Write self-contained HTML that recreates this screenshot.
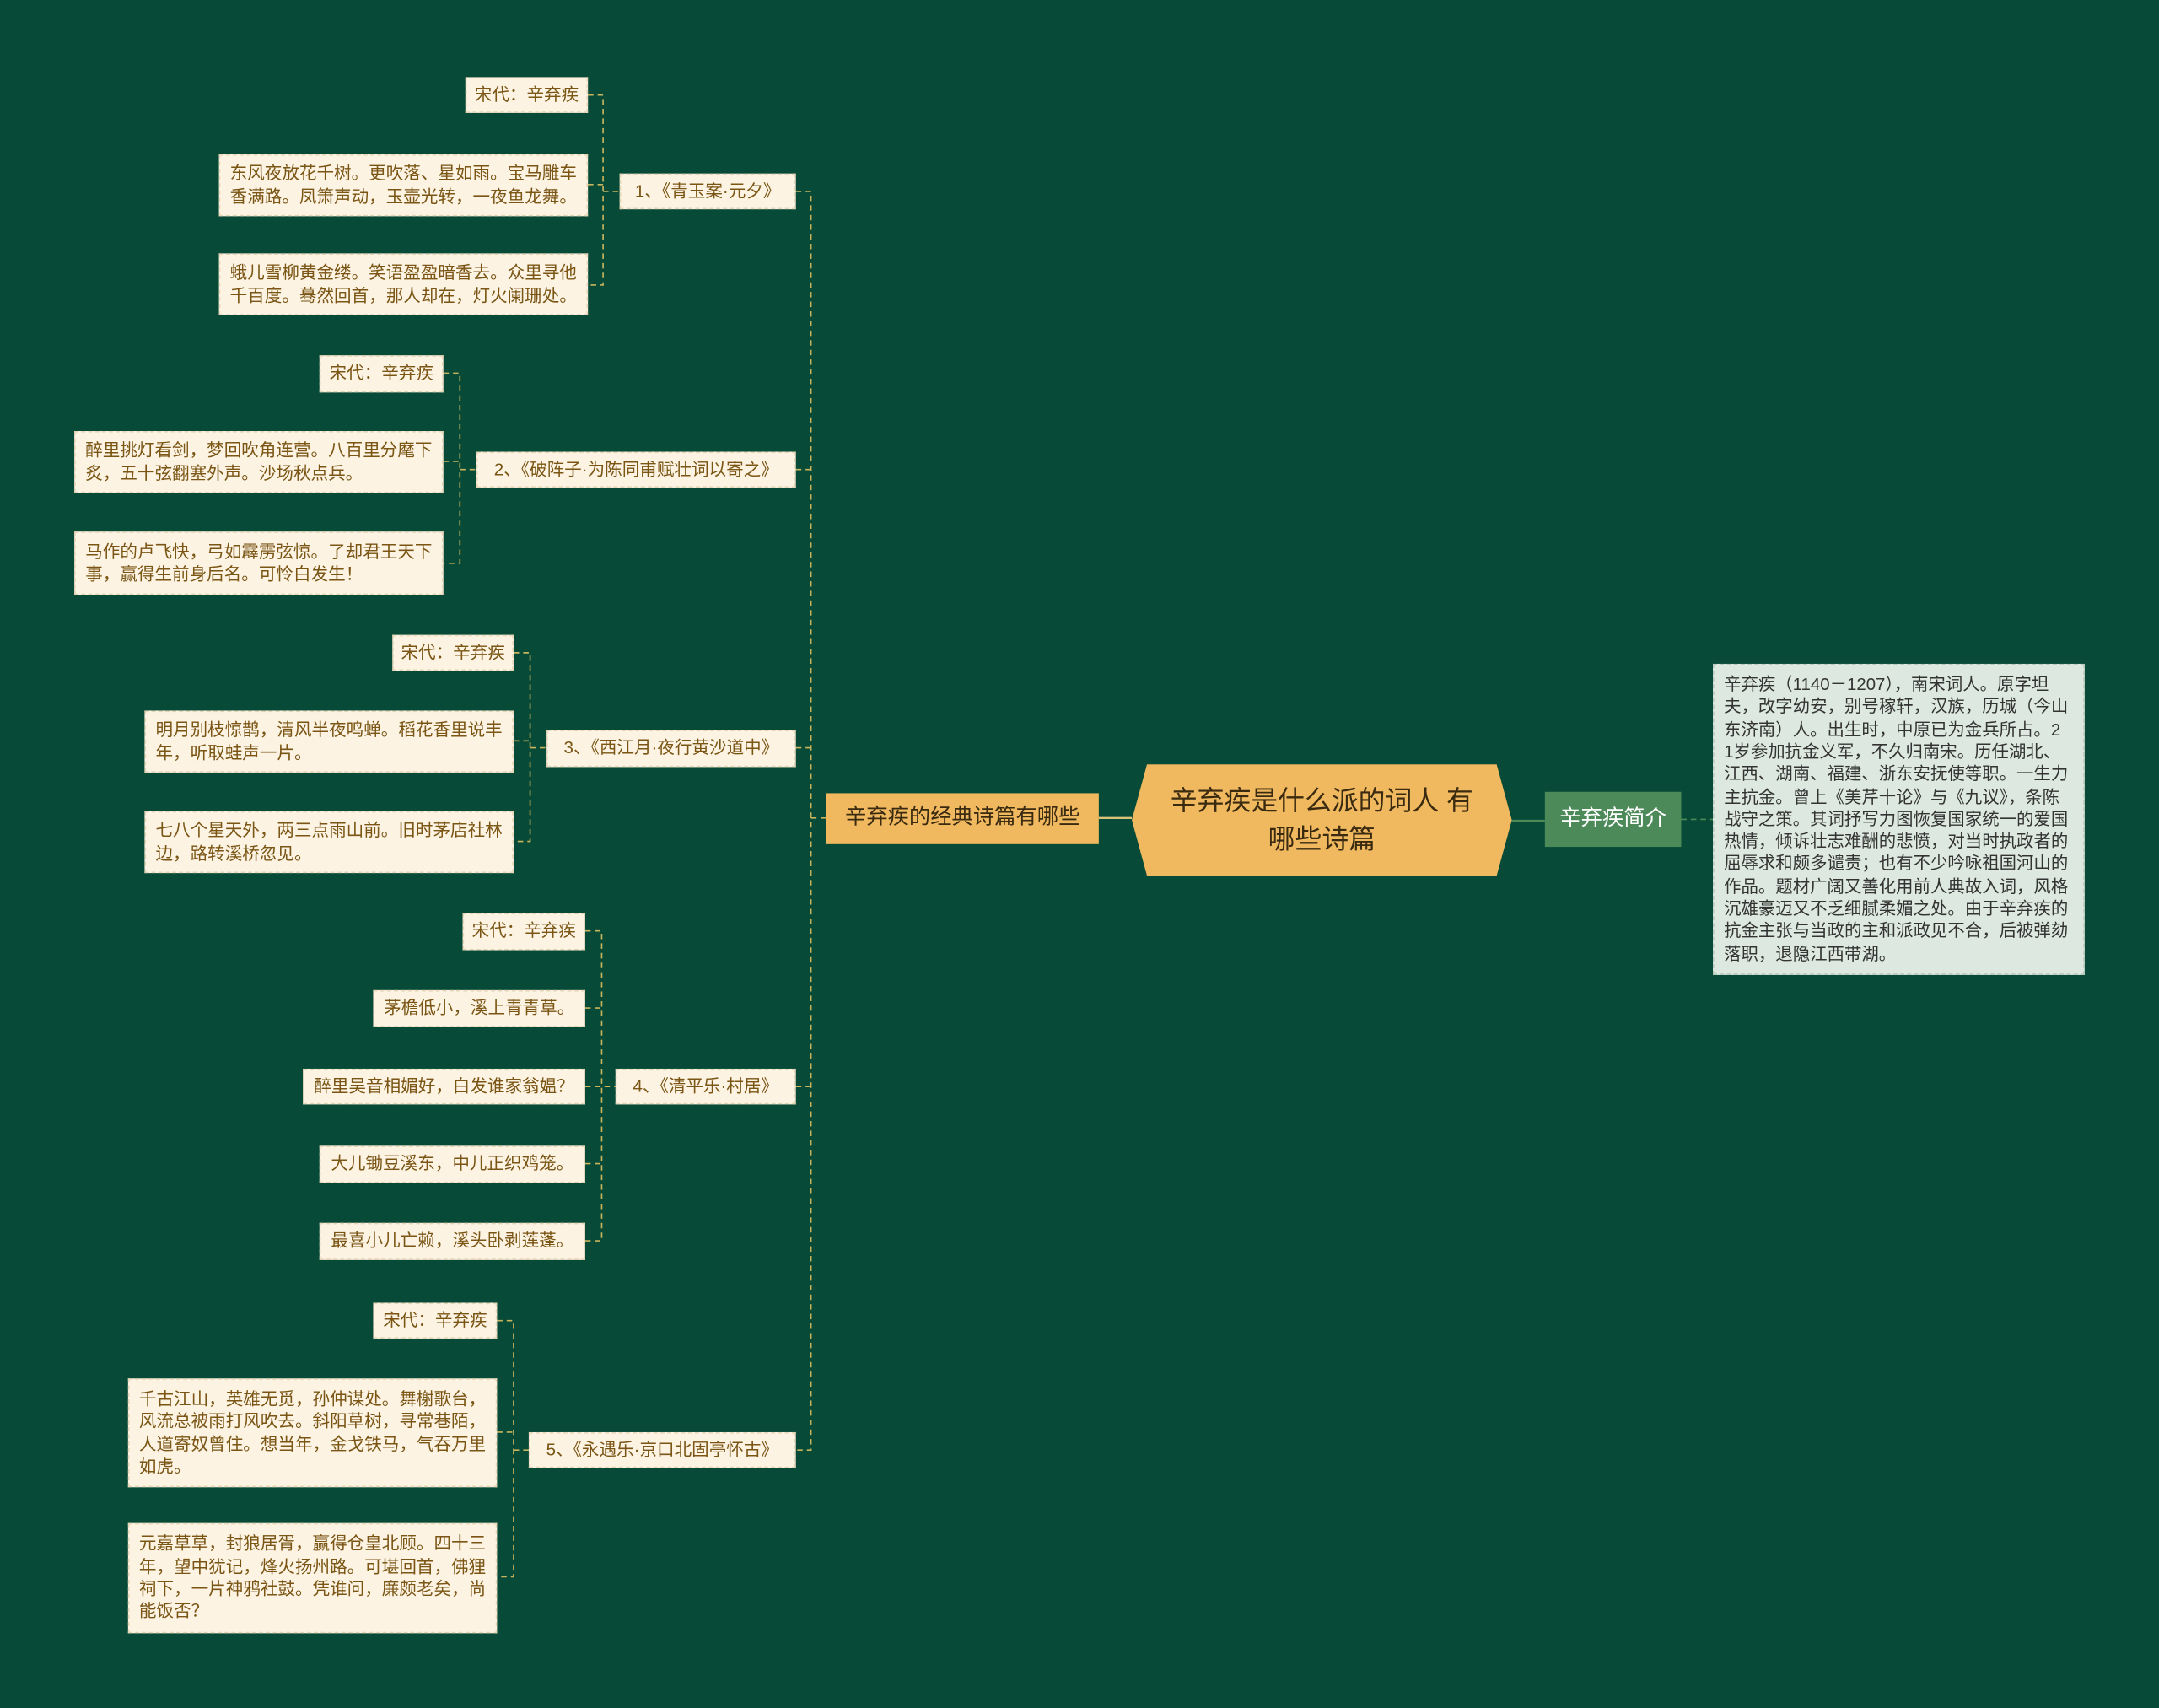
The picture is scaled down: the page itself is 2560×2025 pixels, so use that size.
<!DOCTYPE html>
<html><head><meta charset="utf-8"><style>
html,body{margin:0;padding:0;background:#074a37;width:2560px;height:2025px;overflow:hidden}
#s{position:absolute;left:0;top:0;width:1568px;height:1240px;transform:scale(1.632653);transform-origin:0 0;font-family:"Liberation Sans","Noto Sans CJK SC",sans-serif}
.n{position:absolute;box-sizing:border-box;background:#fcf3e3;color:#7a5514;font-size:12.6px;line-height:16.3px;padding:0 7px;border:1px dashed #e6d6b8;display:flex;align-items:center;white-space:nowrap}
.b{justify-content:center}
svg{position:absolute;left:0;top:0}
</style></head><body><div id="s">
<svg width="1568" height="1240" fill="none" stroke="#c9b45e" stroke-width="1" stroke-dasharray="4,3">
<path d="M578 139H589V1053H578M589 341H578M589 543H578M589 789H578M589 594H600"/>
<path d="M798 594H822" stroke-dasharray="none" stroke="#d8c27a" stroke-width="1.5"/>
<path d="M1098 596H1122" stroke="#4d8a59" stroke-dasharray="none" stroke-width="1.5"/>
<path d="M1221 595H1244" stroke="#4d8a59"/>
<path d="M427 69H438V207H427M427 134H438M438 139H450"/>
<path d="M322 271H334V409H322M322 335H334M334 341H346"/>
<path d="M373 474H385V611H373M373 538H385M385 543H397"/>
<path d="M425 676H437V901H425M425 732H437M425 789H447M425 845H437"/>
<path d="M361 959H373V1145H361M361 1040H373M373 1053H384"/>
</svg>
<div style="position:absolute;left:822px;top:555px;width:276px;height:81px;background:#f0b95f;clip-path:polygon(4% 0,96% 0,100% 50%,96% 100%,4% 100%,0 50%);display:flex;align-items:center;justify-content:center;text-align:center;color:#3a2a10;font-size:19.5px;line-height:28px">辛弃疾是什么派的词人 有<br>哪些诗篇</div>
<div class="n b" style="left:600px;top:576px;width:198px;height:37px;background:#f0b95f;color:#3a2a10;font-size:15.5px;border:none">辛弃疾的经典诗篇有哪些</div>
<div class="n b" style="left:1122px;top:575px;width:99px;height:40px;background:#4d8a59;color:#fff;font-size:15.5px;border:none">辛弃疾简介</div>
<div class="n" style="left:1244px;top:482px;width:270px;height:226px;background:#dde9e0;color:#333;font-size:12.5px;line-height:16.3px;border-color:#b7cbbd;padding:0 6px 0 7px">辛弃疾（1140－1207），南宋词人。原字坦<br>夫，改字幼安，别号稼轩，汉族，历城（今山<br>东济南）人。出生时，中原已为金兵所占。2<br>1岁参加抗金义军，不久归南宋。历任湖北、<br>江西、湖南、福建、浙东安抚使等职。一生力<br>主抗金。曾上《美芹十论》与《九议》，条陈<br>战守之策。其词抒写力图恢复国家统一的爱国<br>热情，倾诉壮志难酬的悲愤，对当时执政者的<br>屈辱求和颇多谴责；也有不少吟咏祖国河山的<br>作品。题材广阔又善化用前人典故入词，风格<br>沉雄豪迈又不乏细腻柔媚之处。由于辛弃疾的<br>抗金主张与当政的主和派政见不合，后被弹劾<br>落职，退隐江西带湖。</div>

<div class="n b" style="left:450px;top:126px;width:128px;height:26px">1、《青玉案·元夕》</div>
<div class="n b" style="left:346px;top:328px;width:232px;height:26px">2、《破阵子·为陈同甫赋壮词以寄之》</div>
<div class="n b" style="left:397px;top:530px;width:181px;height:27px">3、《西江月·夜行黄沙道中》</div>
<div class="n b" style="left:447px;top:776px;width:131px;height:26px">4、《清平乐·村居》</div>
<div class="n b" style="left:384px;top:1040px;width:194px;height:26px">5、《永遇乐·京口北固亭怀古》</div>

<div class="n b" style="left:338px;top:56px;width:89px;height:26px">宋代：辛弃疾</div>
<div class="n" style="left:159px;top:112px;width:268px;height:45px">东风夜放花千树。更吹落、星如雨。宝马雕车<br>香满路。凤箫声动，玉壶光转，一夜鱼龙舞。</div>
<div class="n" style="left:159px;top:184px;width:268px;height:45px">蛾儿雪柳黄金缕。笑语盈盈暗香去。众里寻他<br>千百度。蓦然回首，那人却在，灯火阑珊处。</div>

<div class="n b" style="left:232px;top:258px;width:90px;height:27px">宋代：辛弃疾</div>
<div class="n" style="left:54px;top:313px;width:268px;height:45px">醉里挑灯看剑，梦回吹角连营。八百里分麾下<br>炙，五十弦翻塞外声。沙场秋点兵。</div>
<div class="n" style="left:54px;top:386px;width:268px;height:46px">马作的卢飞快，弓如霹雳弦惊。了却君王天下<br>事，赢得生前身后名。可怜白发生！</div>

<div class="n b" style="left:285px;top:461px;width:88px;height:26px">宋代：辛弃疾</div>
<div class="n" style="left:105px;top:516px;width:268px;height:45px">明月别枝惊鹊，清风半夜鸣蝉。稻花香里说丰<br>年，听取蛙声一片。</div>
<div class="n" style="left:105px;top:589px;width:268px;height:45px">七八个星天外，两三点雨山前。旧时茅店社林<br>边，路转溪桥忽见。</div>

<div class="n b" style="left:336px;top:663px;width:89px;height:27px">宋代：辛弃疾</div>
<div class="n b" style="left:271px;top:719px;width:154px;height:27px">茅檐低小，溪上青青草。</div>
<div class="n b" style="left:220px;top:776px;width:205px;height:26px">醉里吴音相媚好，白发谁家翁媪？</div>
<div class="n b" style="left:232px;top:832px;width:193px;height:27px">大儿锄豆溪东，中儿正织鸡笼。</div>
<div class="n b" style="left:232px;top:888px;width:193px;height:27px">最喜小儿亡赖，溪头卧剥莲蓬。</div>

<div class="n b" style="left:271px;top:946px;width:90px;height:26px">宋代：辛弃疾</div>
<div class="n" style="left:93px;top:1001px;width:268px;height:79px">千古江山，英雄无觅，孙仲谋处。舞榭歌台，<br>风流总被雨打风吹去。斜阳草树，寻常巷陌，<br>人道寄奴曾住。想当年，金戈铁马，气吞万里<br>如虎。</div>
<div class="n" style="left:93px;top:1106px;width:268px;height:80px">元嘉草草，封狼居胥，赢得仓皇北顾。四十三<br>年，望中犹记，烽火扬州路。可堪回首，佛狸<br>祠下，一片神鸦社鼓。凭谁问，廉颇老矣，尚<br>能饭否？</div>
</div></body></html>
